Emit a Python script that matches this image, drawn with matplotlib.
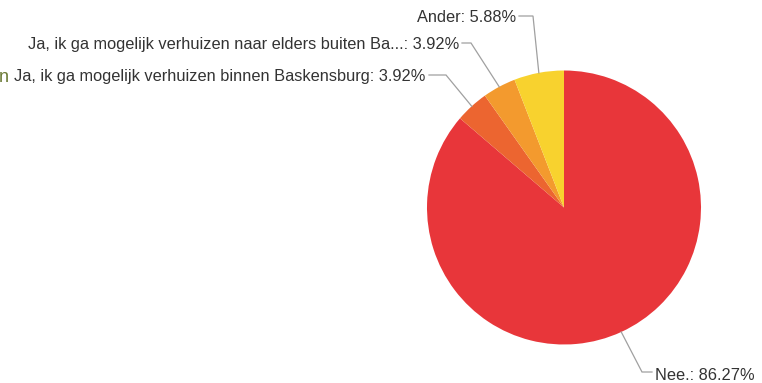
import matplotlib
matplotlib.use("Agg")
import matplotlib.pyplot as plt
import numpy as np

# ---- data ----
categories = ["Nee.", "Ja, ik ga mogelijk verhuizen binnen Baskensburg",
              "Ja, ik ga mogelijk verhuizen naar elders buiten Ba...", "Ander"]
values = [86.27, 3.92, 3.92, 5.88]
colors = ["#E8363A", "#EC6530", "#F39A2E", "#F8D22E"]

W, H = 762, 383
fig = plt.figure(figsize=(W / 100, H / 100), dpi=100)
ax = fig.add_axes([0, 0, 1, 1])

cx, cy, r = 564, H - 207.5, 137
wedges, _ = ax.pie(values, colors=colors, startangle=90, counterclock=False,
                   center=(cx, cy), radius=r, frame=True,
                   wedgeprops=dict(linewidth=0))
ax.set_xlim(0, W)
ax.set_ylim(0, H)
ax.set_aspect("equal")
ax.axis("off")

plt.rcParams["font.family"] = ["Liberation Sans", "DejaVu Sans"]
font = dict(family=["Liberation Sans", "DejaVu Sans"], fontsize=11.8, color="#333333")
line_kw = dict(color="#A0A0A0", lw=0.9, solid_joinstyle="miter")

# label layout: (text anchor x, text y, ha, bend point(s))
layout = {
    0: dict(tx=655, ty=H - 375, ha="left", path=[(642, 372), (652, 372)]),
    1: dict(tx=425, ty=H - 76, ha="right", path=[(446, 75), (429, 75)]),
    2: dict(tx=459, ty=H - 45, ha="right", path=[(471, 43), (462, 43)]),
    3: dict(tx=516, ty=H - 17, ha="right", path=[(533, 16), (519, 16)]),
}

for i, (w, name, val) in enumerate(zip(wedges, categories, values)):
    mid = np.deg2rad((w.theta1 + w.theta2) / 2)
    px, py = cx + r * np.cos(mid), cy + r * np.sin(mid)
    L = layout[i]
    xs = [px] + [p[0] for p in L["path"]]
    ys = [py] + [H - p[1] for p in L["path"]]
    ax.plot(xs, ys, **line_kw)
    ax.text(L["tx"], L["ty"], f"{name}: {val:.2f}%", ha=L["ha"], va="center", **font)

# clipped fragment at left edge
ax.text(-1, H - 78, "n", ha="left", va="center", fontsize=13, color="#6B7A35",
        family=["Liberation Sans", "DejaVu Sans"])

fig.savefig("out.png", dpi=100)
